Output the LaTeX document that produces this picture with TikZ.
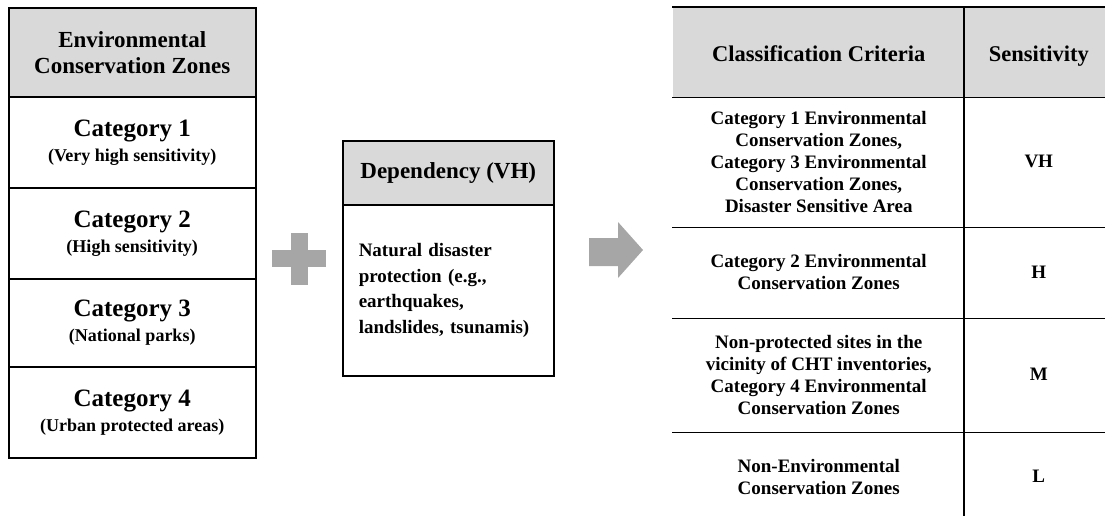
\documentclass[tikz,border=0pt]{standalone}
\usepackage{fontspec}
\setmainfont{Liberation Serif}
\begin{document}
\begin{tikzpicture}[x=1pt,y=-1pt,
  tbl/.style={rectangle, inner sep=0pt, anchor=north west, align=center,
    font=\bfseries, line width=1.5pt},
  boxed/.style={tbl, draw=black},
  hdr/.style={fill=hdrgray},
  hfont/.style={font=\bfseries\fontsize{23}{26}\selectfont},
  catfont/.style={font=\bfseries\fontsize{18}{25}\selectfont},
  cfont/.style={font=\bfseries\fontsize{19}{22}\selectfont},
  thfont/.style={font=\bfseries\fontsize{22.5}{25}\selectfont, text height=24pt, text depth=5pt},
  rule/.style={line width=1.6pt, black},
  symb/.style={fill=symgray, draw=none}
]
\definecolor{hdrgray}{HTML}{D9D9D9}
\definecolor{symgray}{HTML}{A6A6A6}
\useasboundingbox (0,0) rectangle (1105,515);
\clip (0,0) rectangle (1105,515);

% ---- zone categories (left) ----
\node[boxed, hdr, hfont, minimum width=247pt, minimum height=89pt] (envh) at (8,7)
  {Environmental\\Conservation Zones};
\newcommand{\cat}[2]{{\fontsize{25}{25}\selectfont Category #1}\\#2}
\node[boxed, catfont, minimum width=247pt, minimum height=91pt] (cat1) at (8,96)
  {\cat{1}{(Very high sensitivity)}};
\node[boxed, catfont, minimum width=247pt, minimum height=91pt] (cat2) at (8,187)
  {\cat{2}{(High sensitivity)}};
\node[boxed, catfont, minimum width=247pt, minimum height=88pt] (cat3) at (8,278)
  {\cat{3}{(National parks)}};
\node[boxed, catfont, minimum width=247pt, minimum height=91pt] (cat4) at (8,366)
  {\cat{4}{(Urban protected areas)}};

% ---- plus sign ----
\fill[symb] (272,250) rectangle (326,267);
\fill[symb] (291,233) rectangle (308,285);

% ---- dependency box (middle) ----
\node[boxed, hdr, hfont, minimum width=211pt, minimum height=64pt] (deph) at (342,140)
  {Dependency (VH)};
\node[boxed, align=left, text width=179pt, inner xsep=16pt, inner ysep=0pt,
      minimum height=171pt, font=\bfseries\fontsize{19}{25.5}\selectfont] (depb) at (342,204)
  {Natural disaster\\protection (e.g.,\\earthquakes,\\landslides, tsunamis)};

% ---- arrow ----
\fill[symb] (589,238) -- (618,238) -- (618,222) -- (643,250) -- (618,278)
  -- (618,266) -- (589,266) -- cycle;

% ---- classification table (right) ----
\node[tbl, hdr, thfont, minimum width=292pt, minimum height=89pt] (crith) at (672,7)
  {Classification Criteria};
\node[tbl, hdr, thfont, minimum width=148pt, minimum height=89pt] (sensh) at (964,7)
  {Sensitivity};
\node[tbl, cfont, minimum width=292pt, minimum height=130pt] (crit1) at (672,96)
  {Category 1 Environmental\\Conservation Zones,\\Category 3 Environmental\\Conservation Zones,\\Disaster Sensitive Area};
\node[tbl, cfont, minimum width=148pt, minimum height=130pt] (sens1) at (964,96) {VH};
\node[tbl, cfont, minimum width=292pt, minimum height=91pt] (crit2) at (672,226)
  {Category 2 Environmental\\Conservation Zones};
\node[tbl, cfont, minimum width=148pt, minimum height=91pt] (sens2) at (964,226) {H};
\node[tbl, cfont, minimum width=292pt, minimum height=114pt] (crit3) at (672,317)
  {Non-protected sites in the\\vicinity of CHT inventories,\\Category 4 Environmental\\Conservation Zones};
\node[tbl, cfont, minimum width=148pt, minimum height=114pt] (sens3) at (964,317) {M};
\node[tbl, cfont, minimum width=292pt, minimum height=90pt] (crit4) at (672,431)
  {Non-Environmental\\Conservation Zones};
\node[tbl, cfont, minimum width=148pt, minimum height=90pt] (sens4) at (964,431) {L};

% table rules
\draw[rule] (crith.north west) -- (sensh.north east);
\draw[rule] (crith.south west) -- (sensh.south east);
\draw[rule] (crit1.south west) -- (sens1.south east);
\draw[rule] (crit2.south west) -- (sens2.south east);
\draw[rule] (crit3.south west) -- (sens3.south east);
\draw[rule] (sensh.north west) -- ([yshift=-20pt]sens4.south west);
\end{tikzpicture}
\end{document}
